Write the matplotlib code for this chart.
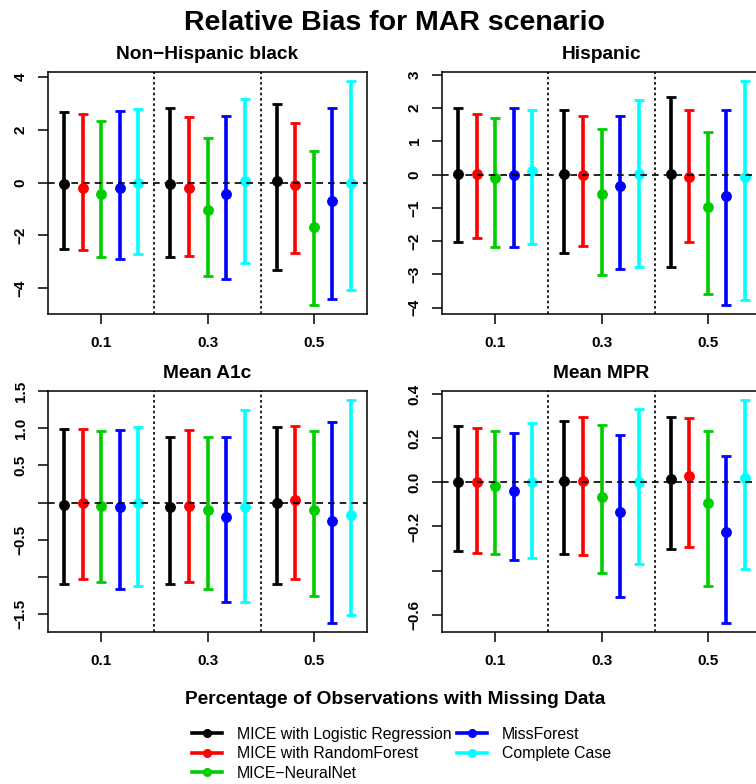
import matplotlib
matplotlib.use("Agg")
from matplotlib import pyplot as plt
from matplotlib.lines import Line2D

plt.rcParams['font.family'] = ['Liberation Sans', 'DejaVu Sans']

# missing-data percentages (groups on the x axis)
groups = ["0.1", "0.3", "0.5"]
methods = ["MICE with Logistic Regression", "MICE with RandomForest",
           "MICE\u2212NeuralNet", "MissForest", "Complete Case"]
colors = ["black", "#FF0000", "#00CD00", "#0000FF", "#00FFFF"]

# Non-Hispanic black: one row per group, one value per method
nhb_mean = [[-0.05, -0.19, -0.43, -0.19, 0.00],
            [-0.06, -0.19, -1.03, -0.43, 0.06],
            [0.06, -0.11, -1.70, -0.68, 0.00]]
nhb_low = [[-2.52, -2.57, -2.82, -2.88, -2.69],
           [-2.82, -2.77, -3.55, -3.67, -3.04],
           [-3.30, -2.67, -4.64, -4.43, -4.08]]
nhb_high = [[2.68, 2.59, 2.34, 2.72, 2.77],
            [2.84, 2.47, 1.67, 2.53, 3.18],
            [2.96, 2.24, 1.21, 2.84, 3.85]]

# Hispanic
hisp_mean = [[0.03, 0.03, -0.10, -0.02, 0.10],
             [0.03, 0.00, -0.59, -0.34, 0.03],
             [0.03, -0.07, -0.97, -0.64, -0.07]]
hisp_low = [[-2.04, -1.90, -2.19, -2.19, -2.09],
            [-2.37, -2.14, -3.02, -2.85, -2.77],
            [-2.77, -2.04, -3.59, -3.92, -3.77]]
hisp_high = [[2.01, 1.81, 1.71, 2.01, 1.95],
             [1.93, 1.75, 1.38, 1.75, 2.23],
             [2.33, 1.93, 1.28, 1.93, 2.81]]

# Mean A1c
a1c_mean = [[-0.03, -0.01, -0.05, -0.06, -0.01],
            [-0.06, -0.04, -0.10, -0.19, -0.06],
            [-0.01, 0.04, -0.10, -0.25, -0.17]]
a1c_low = [[-1.10, -1.03, -1.07, -1.16, -1.12],
           [-1.10, -1.07, -1.16, -1.33, -1.33],
           [-1.10, -1.03, -1.25, -1.62, -1.51]]
a1c_high = [[0.985, 0.985, 0.96, 0.97, 1.01],
            [0.88, 0.97, 0.88, 0.88, 1.24],
            [1.02, 1.03, 0.96, 1.08, 1.38]]

# Mean MPR
mpr_mean = [[0.000, 0.003, -0.015, -0.039, 0.003],
            [0.006, 0.006, -0.065, -0.133, 0.003],
            [0.014, 0.029, -0.095, -0.227, 0.021]]
mpr_low = [[-0.311, -0.318, -0.326, -0.353, -0.341],
           [-0.326, -0.330, -0.411, -0.520, -0.368],
           [-0.303, -0.295, -0.470, -0.638, -0.391]]
mpr_high = [[0.258, 0.245, 0.233, 0.226, 0.268],
            [0.280, 0.295, 0.261, 0.215, 0.332],
            [0.295, 0.291, 0.233, 0.121, 0.374]]

panels = [
    ("Non\u2212Hispanic black", nhb_mean, nhb_low, nhb_high,
     [4, 2, 0, -2, -4], ["4", "2", "0", "\u22122", "\u22124"]),
    ("Hispanic", hisp_mean, hisp_low, hisp_high,
     [3, 2, 1, 0, -1, -2, -3, -4],
     ["3", "2", "1", "0", "\u22121", "\u22122", "\u22123", "\u22124"]),
    ("Mean A1c", a1c_mean, a1c_low, a1c_high,
     [1.5, 1.0, 0.5, 0.0, -0.5, -1.0, -1.5],
     ["1.5", "1.0", "0.5", "", "\u22120.5", "", "\u22121.5"]),
    ("Mean MPR", mpr_mean, mpr_low, mpr_high,
     [0.4, 0.2, 0.0, -0.2, -0.4, -0.6],
     ["0.4", "0.2", "0.0", "\u22120.2", "", "\u22120.6"]),
]

W, H = 756, 784
fig = plt.figure(figsize=(W / 100, H / 100), dpi=100)

# axes boxes in pixels: left, top, width, height (right column runs past the edge)
boxes = [(48, 72, 319, 242), (442, 72, 319, 242),
         (48, 391, 319, 241), (442, 391, 319, 241)]
offsets = [-0.35, -0.175, 0.0, 0.175, 0.35]

for (title, mean, low, high, yt, ytl), (l, t, w, h) in zip(panels, boxes):
    ax = fig.add_axes([l / W, 1 - (t + h) / H, w / W, h / H])
    for g in range(len(groups)):
        for m in range(len(methods)):
            mu = mean[g][m]
            ax.errorbar(g + 1 + offsets[m], mu,
                        yerr=[[mu - low[g][m]], [high[g][m] - mu]],
                        fmt='o', color=colors[m], ecolor=colors[m],
                        elinewidth=2.6, capsize=3.4, capthick=2.0,
                        markersize=6.8, zorder=3)
    ax.axhline(0, color='black', lw=1.2, ls=(0, (4, 3)), zorder=4)
    for xv in (1.5, 2.5):
        ax.axvline(xv, color='black', lw=1.2, ls=(0, (1.6, 1.6)), zorder=2)

    lo = min(min(r) for r in low)
    hi = max(max(r) for r in high)
    pad = 0.04 * (hi - lo)
    ax.set_ylim(lo - pad, hi + pad)
    ax.set_xlim(0.5, 3.5)

    ax.set_xticks([1, 2, 3])
    ax.set_xticklabels(groups, fontsize=11, fontweight='bold')
    ax.set_yticks(yt)
    ax.set_yticklabels(ytl, fontsize=11, fontweight='bold')
    plt.setp(ax.get_yticklabels(), rotation=90, va='center')
    ax.tick_params(axis='x', length=7.2, width=1.1, pad=8.6)
    ax.tick_params(axis='y', length=7.0, width=1.1, pad=7.5)
    for s in ax.spines.values():
        s.set_linewidth(1.1)
    ax.set_title(title, fontsize=13.8, fontweight='bold', pad=9.5)

fig.text(394 / W, 1 - 23 / H, "Relative Bias for MAR scenario",
         fontsize=20.5, fontweight='bold', ha='center', va='center')
fig.text(395 / W, 1 - 699 / H, "Percentage of Observations with Missing Data",
         fontsize=13.8, fontweight='bold', ha='center', va='center')

handles = [Line2D([], [], color=c, lw=2.6, marker='o', markersize=5.5)
           for c in colors]
fig.legend(handles, methods, ncol=2, loc='upper left',
           bbox_to_anchor=(192 / W, 1 - 727 / H), frameon=False,
           fontsize=11.4, handlelength=1.9, handletextpad=0.95,
           labelspacing=0.28, columnspacing=0.32, borderaxespad=0,
           borderpad=0)

fig.savefig("out.png", dpi=100)
